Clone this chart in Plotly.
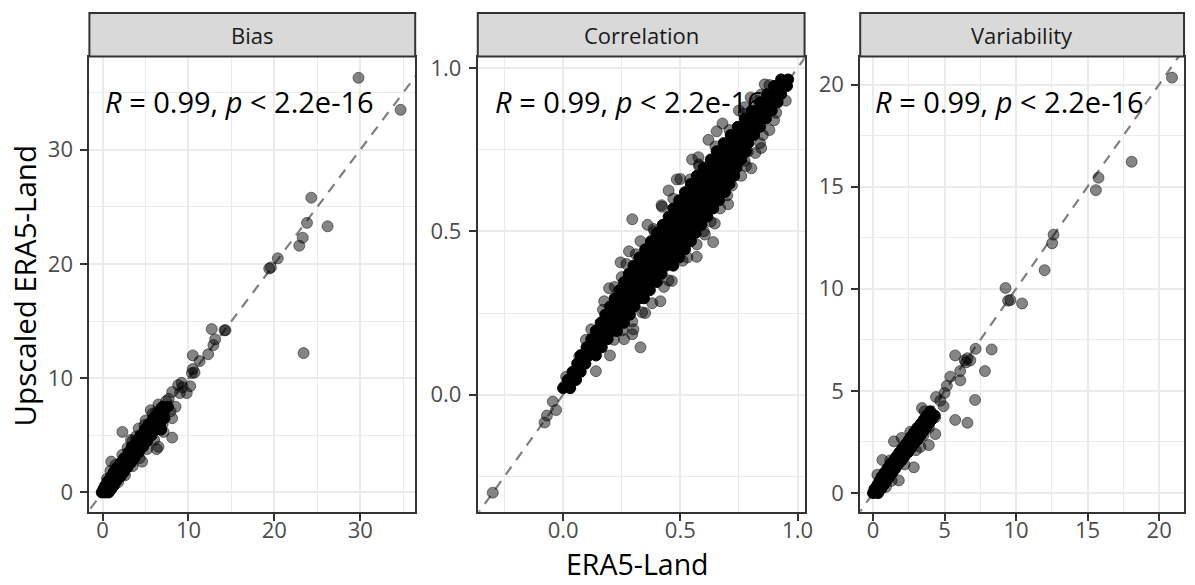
import plotly.graph_objects as go

W, H = 1195, 585
FONT = "Open Sans"

panels = ["Bias", "Correlation", "Variability"]
stat_label = "<i>R</i> = 0.99, <i>p</i> &lt; 2.2e-16"
x_title = "ERA5-Land"
y_title = "Upscaled ERA5-Land"

# ---------------- Bias panel ----------------
bias_x = [29.8, 34.7, 24.3, 23.8, 26.2, 23.3, 22.9, 20.4, 19.4, 19.6,
          23.4, 14.2, 14.3, 12.7, 13.1, 12.9, 12.3, 11.3, 10.5, 10.5,
          10.4, 10.7, 9.2, 9.8, 9.0, 8.1, 8.1, 8.1, 7.1, 6.5,
          6.3, 4.6, 2.3, 5.6, 6.5, 7.7, 3.3, 1.0, 0.9,
          3.5, 4.2, 5.0, 5.8, 6.8, 7.4, 7.0, 6.0, 5.2, 4.3,
          3.5, 2.6, 1.8, 1.5, 2.3, 0.5, 8.5, 9.3, 10.2, 8.8,
          4.9, 6.2, 7.9, 2.9, 3.9, 1.2]
bias_y = [36.3, 33.5, 25.8, 23.6, 23.3, 22.3, 21.6, 20.5, 19.6, 19.7,
          12.2, 14.2, 14.2, 14.3, 13.4, 12.9, 12.1, 11.5, 12.0, 10.8,
          10.45, 10.5, 9.6, 8.7, 8.7, 8.8, 6.5, 4.8, 5.3, 4.0,
          3.8, 2.7, 5.3, 7.2, 7.7, 8.2, 4.6, 2.7, 1.9,
          4.5, 5.6, 6.3, 6.9, 7.4, 8.0, 6.0, 4.6, 3.8, 3.0,
          2.3, 1.5, 0.9, 2.4, 3.3, 1.2, 7.5, 9.2, 9.3, 9.4,
          5.9, 7.0, 7.1, 3.9, 4.9, 0.5]
bias_core_y = [0.0, 0.3, 0.6, 1.0, 1.4, 1.8, 2.2, 2.6, 3.0, 3.5, 4.0,
               4.5, 5.0, 5.5, 6.0, 6.5, 7.0, 7.5]
bias_core_x = [[-0.1, 0.3, 0.7], [0.1, 0.5, 1.0], [0.3, 0.8, 1.3], [0.6, 1.1, 1.6],
               [1.0, 1.5, 2.1], [1.3, 1.9, 2.5], [1.7, 2.3, 2.9], [2.1, 2.7, 3.3],
               [2.5, 3.1, 3.7], [3.0, 3.6, 4.2], [3.4, 4.0, 4.7], [3.9, 4.5, 5.2],
               [4.4, 5.0, 5.7], [4.9, 5.5, 6.2, 6.8], [5.4, 6.0, 6.7],
               [5.9, 6.5, 7.2], [6.5, 7.1], [7.0, 7.6]]

# ---------------- Correlation panel ----------------
corr_x = [-0.30, -0.079, -0.069, -0.044, -0.03, 0.013, 0.006, 0.069, 0.097, 0.076,
          0.14, 0.118, 0.14, 0.217, 0.175, 0.196, 0.245, 0.295, 0.281, 0.295,
          0.33, 0.295, 0.337, 0.415, 0.464, 0.386, 0.422, 0.45, 0.485, 0.577,
          0.58, 0.64, 0.647, 0.704, 0.661, 0.655, 0.774, 0.803, 0.788, 0.845,
          0.852, 0.88, 0.845, 0.774, 0.859, 0.909, 0.894, 0.732, 0.746, 0.542,
          0.464, 0.365, 0.224, 0.168, 0.253, 0.436, 0.492, 0.57, 0.605, 0.69,
          0.824,
          0.17, 0.22, 0.27, 0.33, 0.36, 0.42, 0.50, 0.55, 0.62, 0.68, 0.75, 0.80, 0.86,
          0.20, 0.30, 0.38, 0.45, 0.53, 0.60, 0.67, 0.72, 0.78, 0.84, 0.90, 0.95,
          0.12, 0.25, 0.31, 0.39, 0.47, 0.58, 0.65, 0.71, 0.77, 0.83,
          0.26, 0.35, 0.43, 0.51, 0.57, 0.63, 0.70, 0.76, 0.82, 0.88]
corr_y = [-0.30, -0.085, -0.064, -0.021, -0.047, 0.055, 0.027, 0.117, 0.168, 0.122,
          0.196, 0.15, 0.072, 0.168, 0.286, 0.326, 0.405, 0.537, 0.439, 0.185,
          0.145, 0.224, 0.252, 0.286, 0.348, 0.507, 0.575, 0.625, 0.659, 0.727,
          0.705, 0.467, 0.524, 0.583, 0.744, 0.806, 0.716, 0.693, 0.744, 0.755,
          0.795, 0.948, 0.919, 0.88, 0.886, 0.863, 0.919, 0.727, 0.784, 0.659,
          0.524, 0.439, 0.282, 0.224, 0.197, 0.41, 0.456, 0.422, 0.49, 0.67,
          0.829,
          0.26, 0.33, 0.40, 0.47, 0.52, 0.58, 0.66, 0.72, 0.78, 0.83, 0.87, 0.91, 0.95,
          0.12, 0.20, 0.28, 0.35, 0.42, 0.50, 0.57, 0.64, 0.70, 0.77, 0.84, 0.90,
          0.20, 0.36, 0.43, 0.50, 0.60, 0.70, 0.76, 0.81, 0.86, 0.90,
          0.17, 0.25, 0.33, 0.41, 0.46, 0.53, 0.61, 0.67, 0.74, 0.81]
corr_core_y = [0.02, 0.045, 0.07, 0.095, 0.12, 0.145, 0.17, 0.195, 0.22, 0.245,
               0.27, 0.295, 0.32, 0.345, 0.37, 0.395, 0.42, 0.445, 0.47, 0.495,
               0.52, 0.545, 0.57, 0.595, 0.62, 0.645, 0.67, 0.695, 0.72, 0.745,
               0.77, 0.795, 0.82, 0.845, 0.87, 0.895, 0.92, 0.945, 0.965]
corr_core_x = [[0.0, 0.03], [0.02, 0.055], [0.04, 0.075], [0.06, 0.095],
               [0.075, 0.11, 0.14], [0.10, 0.135, 0.165], [0.12, 0.155, 0.19],
               [0.14, 0.175, 0.21, 0.23], [0.16, 0.195, 0.23, 0.26],
               [0.18, 0.215, 0.25, 0.285], [0.2, 0.235, 0.27, 0.305],
               [0.22, 0.255, 0.29, 0.325, 0.345], [0.24, 0.275, 0.31, 0.345, 0.37],
               [0.26, 0.295, 0.33, 0.365, 0.40], [0.28, 0.315, 0.35, 0.385, 0.42],
               [0.30, 0.335, 0.37, 0.405, 0.44, 0.47],
               [0.325, 0.36, 0.395, 0.43, 0.465, 0.495],
               [0.35, 0.385, 0.42, 0.455, 0.49, 0.52],
               [0.375, 0.41, 0.445, 0.48, 0.515, 0.545],
               [0.40, 0.435, 0.47, 0.505, 0.54, 0.565],
               [0.425, 0.46, 0.495, 0.53, 0.565, 0.59],
               [0.45, 0.485, 0.52, 0.555, 0.59, 0.615],
               [0.47, 0.505, 0.54, 0.575, 0.61, 0.64],
               [0.495, 0.53, 0.565, 0.60, 0.635, 0.665],
               [0.52, 0.555, 0.59, 0.625, 0.66, 0.69],
               [0.545, 0.58, 0.615, 0.65, 0.685, 0.71],
               [0.57, 0.605, 0.64, 0.675, 0.71, 0.73],
               [0.60, 0.635, 0.67, 0.705, 0.74],
               [0.63, 0.665, 0.70, 0.735, 0.76],
               [0.655, 0.69, 0.725, 0.76, 0.78], [0.685, 0.72, 0.755, 0.79],
               [0.715, 0.75, 0.785, 0.815], [0.745, 0.78, 0.81, 0.84],
               [0.775, 0.805, 0.835, 0.865], [0.805, 0.835, 0.865, 0.89],
               [0.84, 0.87, 0.90, 0.915], [0.87, 0.90, 0.93],
               [0.9, 0.93, 0.955], [0.93, 0.96]]

# ---------------- Variability panel ----------------
var_x = [20.9, 18.08, 15.76, 15.58, 12.62, 12.52, 11.99, 9.26, 9.44, 9.6,
         10.42, 8.29, 7.17, 5.74, 7.82, 7.13, 5.74, 6.6, 6.4, 6.6,
         6.8, 6.5, 6.09, 5.4, 5.16, 6.1, 4.7, 4.93, 4.35, 3.9,
         3.31, 2.85, 1.8, 1.46, 0.65, 3.42, 4.35, 1.2, 1.3, 2.2,
         3.0, 3.5, 2.6, 3.6, 0.9, 0.3, 4.4, 5.0, 2.0, 3.9]
var_y = [20.34, 16.22, 15.44, 14.83, 12.65, 12.23, 10.91, 10.04, 9.42, 9.45,
         9.28, 7.03, 7.06, 6.74, 5.97, 4.56, 3.58, 3.44, 6.5, 6.6,
         6.5, 6.4, 5.97, 5.7, 5.25, 5.52, 4.52, 4.25, 2.89, 2.35,
         2.26, 1.26, 0.62, 2.53, 1.62, 4.16, 3.71, 1.6, 0.6, 1.4,
         2.1, 2.8, 3.0, 4.0, 0.3, 0.9, 4.7, 4.9, 2.7, 3.2]
var_core_y = [0.0, 0.2, 0.4, 0.6, 0.8, 1.0, 1.2, 1.4, 1.6, 1.8, 2.0,
              2.2, 2.4, 2.6, 2.8, 3.0, 3.2, 3.4, 3.6, 3.8, 4.0]
var_core_x = [[0.0, 0.35], [0.1, 0.55], [0.3, 0.75], [0.45, 0.95], [0.6, 1.15],
              [0.8, 1.35], [1.0, 1.55], [1.2, 1.75], [1.45, 2.0], [1.65, 2.2],
              [1.85, 2.45], [2.05, 2.65], [2.3, 2.85], [2.5, 3.1], [2.7, 3.3],
              [2.9, 3.5], [3.1, 3.7], [3.35, 3.9], [3.55, 4.1], [3.75, 4.3],
              [4.0]]

# axis setup per panel (ranges, ticks)
x_ranges = [[-1.54, 36.4], [-0.364, 1.03], [-0.9, 21.74]]
y_ranges = [[-1.68, 38.16], [-0.358, 1.035], [-0.91, 21.37]]
major_dticks = [10, 0.5, 5]
minor_dticks = [5, 0.25, 2.5]
tick_formats = ["d", ".1f", "d"]
stat_x = [0, -0.30, 0]


def flatten(rows_y, rows_x):
    xs, ys = [], []
    for yv, row in zip(rows_y, rows_x):
        for xv in row:
            xs.append(xv)
            ys.append(yv)
    return xs, ys


def pxx(p):
    return p / W


def pxy(p):
    return 1 - p / H


x_domains = [[pxx(90), pxx(418)], [pxx(481), pxx(810)], [pxx(866), pxx(1192)]]
y_domain = [pxy(511), pxy(52)]

series = [
    (bias_x, bias_y, flatten(bias_core_y, bias_core_x)),
    (corr_x, corr_y, flatten(corr_core_y, corr_core_x)),
    (var_x, var_y, flatten(var_core_y, var_core_x)),
]

fig = go.Figure()
light = dict(size=11, color="rgba(0,0,0,0.48)", line=dict(color="rgba(0,0,0,0.48)", width=1))
dark = dict(size=11, color="rgb(0,0,0)", line=dict(color="rgb(0,0,0)", width=1))

for i, (sx, sy, (cx, cy)) in enumerate(series):
    xa = "x" if i == 0 else f"x{i+1}"
    ya = "y" if i == 0 else f"y{i+1}"
    lo = min(x_ranges[i][0], y_ranges[i][0]) - 1
    hi = max(x_ranges[i][1], y_ranges[i][1]) + 1
    fig.add_trace(go.Scatter(x=[lo, hi], y=[lo, hi], mode="lines", xaxis=xa, yaxis=ya,
                             line=dict(color="#7F7F7F", width=2.2, dash="10px,8px"),
                             showlegend=False, hoverinfo="skip"))
    fig.add_trace(go.Scatter(x=sx, y=sy, mode="markers", xaxis=xa, yaxis=ya,
                             marker=light, showlegend=False))
    fig.add_trace(go.Scatter(x=cx, y=cy, mode="markers", xaxis=xa, yaxis=ya,
                             marker=dark, showlegend=False))

layout = dict(width=W, height=H, margin=dict(l=0, r=0, t=0, b=0),
              paper_bgcolor="white", plot_bgcolor="white",
              font=dict(family=FONT), showlegend=False)

shapes = []
annotations = []
for i in range(3):
    suf = "" if i == 0 else str(i + 1)
    common = dict(showline=True, mirror=True, linecolor="#333333", linewidth=2,
                  ticks="outside", ticklen=7, tickwidth=2, tickcolor="#333333",
                  showgrid=True, gridcolor="#EBEBEB", gridwidth=2, zeroline=False,
                  tickfont=dict(size=22, color="#4D4D4D", family=FONT),
                  tickmode="linear", tick0=0, dtick=major_dticks[i],
                  tickformat=tick_formats[i],
                  minor=dict(tickmode="linear", tick0=0, dtick=minor_dticks[i],
                             showgrid=True, gridcolor="#EBEBEB", gridwidth=1, ticks=""))
    layout["xaxis" + suf] = dict(common, domain=x_domains[i], range=x_ranges[i],
                                 anchor="y" + suf, ticklabelstandoff=-9)
    layout["yaxis" + suf] = dict(common, domain=y_domain, range=y_ranges[i],
                                 anchor="x" + suf, ticklabelstandoff=3)
    # strip
    shapes.append(dict(type="rect", xref="paper", yref="paper",
                       x0=x_domains[i][0], x1=x_domains[i][1], y0=pxy(52), y1=pxy(8),
                       fillcolor="#D9D9D9", line=dict(color="#333333", width=2), layer="above"))
    annotations.append(dict(text=panels[i], xref="paper", yref="paper",
                            x=(x_domains[i][0] + x_domains[i][1]) / 2, y=pxy(30),
                            xanchor="center", yanchor="middle", showarrow=False,
                            font=dict(size=22, color="#1A1A1A", family=FONT)))
    annotations.append(dict(text=stat_label, xref="x" + suf, yref="paper",
                            x=stat_x[i], y=pxy(97), xanchor="left", yanchor="middle",
                            showarrow=False, font=dict(size=29, color="black", family=FONT)))

annotations.append(dict(text=x_title, xref="paper", yref="paper", x=pxx(642), y=0,
                        xanchor="center", yanchor="bottom", showarrow=False,
                        font=dict(size=28.5, color="black", family=FONT)))
annotations.append(dict(text=y_title, xref="paper", yref="paper", x=pxx(25), y=pxy(283),
                        xanchor="center", yanchor="middle", showarrow=False, textangle=-90,
                        font=dict(size=29.5, color="black", family=FONT)))

layout["shapes"] = shapes
layout["annotations"] = annotations
fig.update_layout(**layout)
fig.write_html("out.html", config={"displayModeBar": False},
               post_script="document.body.style.margin='0';document.body.style.overflow='hidden';")
